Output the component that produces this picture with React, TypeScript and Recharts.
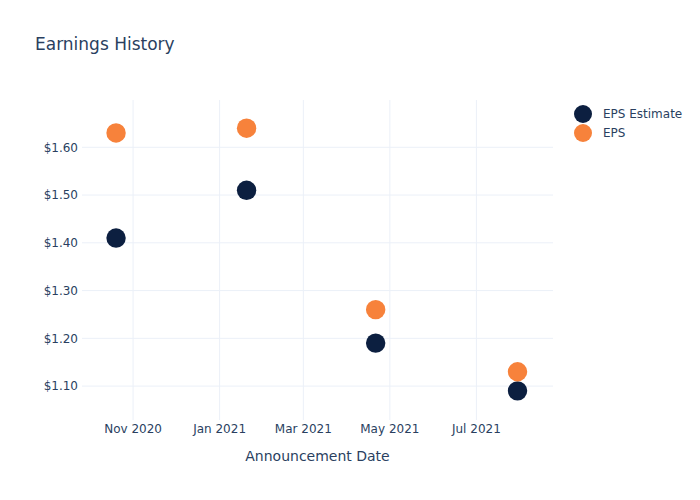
import React from 'react';
import { ScatterChart, Scatter, XAxis, YAxis, ReferenceLine } from 'recharts';

const announceDates = ['2020-10-20', '2021-01-20', '2021-04-21', '2021-07-30'];
const epsEstimate = [1.41, 1.51, 1.19, 1.09];
const epsActual = [1.63, 1.64, 1.26, 1.13];
const xTickDates = ['2020-11-01', '2021-01-01', '2021-03-01', '2021-05-01', '2021-07-01'];
const yTicks = [1.1, 1.2, 1.3, 1.4, 1.5, 1.6];

const monthNames = ['Jan', 'Feb', 'Mar', 'Apr', 'May', 'Jun', 'Jul', 'Aug', 'Sep', 'Oct', 'Nov', 'Dec'];
const FONT = '"DejaVu Sans", Verdana, sans-serif';
const TEXT = '#2a3f5f';
const GRID = '#ebf0f8';
const NAVY = '#0c1f40';
const ORANGE = '#f7823b';

const ts = (d: string) => new Date(d + 'T00:00:00Z').getTime();

const estimateData = announceDates.map((d, i) => ({ date: ts(d), value: epsEstimate[i] }));
const actualData = announceDates.map((d, i) => ({ date: ts(d), value: epsActual[i] }));

const Dot = (color: string) => (props: any) => <circle cx={props.cx} cy={props.cy} r={9.7} fill={color} />;

const App: React.FC = () => {
  const legend = [
    { name: 'EPS Estimate', color: NAVY },
    { name: 'EPS', color: ORANGE },
  ];
  return (
    <div style={{ position: 'absolute', left: 0, top: 0, width: 700, height: 500, background: '#fff', fontFamily: FONT }}>
      <div style={{ position: 'absolute', left: 35, top: 34, fontSize: 17, color: TEXT }}>Earnings History</div>
      {legend.map((l, i) => (
        <div key={l.name} style={{ position: 'absolute', left: 574, top: 105 + i * 19, height: 18, display: 'flex', alignItems: 'center' }}>
          <span style={{ width: 18, height: 18, borderRadius: 9, background: l.color, display: 'inline-block' }} />
          <span style={{ marginLeft: 11, fontSize: 12, color: TEXT }}>{l.name}</span>
        </div>
      ))}
      <ScatterChart width={700} height={500} margin={{ top: 100, right: 147, left: 22, bottom: 20 }}>
        <XAxis
          type="number"
          dataKey="date"
          domain={[ts('2020-09-26'), ts('2021-08-24')]}
          ticks={xTickDates.map(ts)}
          tickFormatter={(v: number) => {
            const d = new Date(v);
            return `${monthNames[d.getUTCMonth()]} ${d.getUTCFullYear()}`;
          }}
          height={60}
          tickLine={false}
          axisLine={false}
          tickSize={0}
          tickMargin={4}
          tick={{ fill: TEXT, fontSize: 12, fontFamily: FONT }}
          label={{ value: 'Announcement Date', position: 'insideBottom', offset: 19, fill: TEXT, fontSize: 14, fontFamily: FONT }}
        />
        <YAxis
          type="number"
          dataKey="value"
          domain={[1.029, 1.699]}
          ticks={yTicks}
          tickFormatter={(v: number) => `$${v.toFixed(2)}`}
          width={60}
          tickLine={false}
          axisLine={false}
          tickSize={0}
          tickMargin={4}
          tick={{ fill: TEXT, fontSize: 12, fontFamily: FONT }}
        />
        {xTickDates.map((d) => (
          <ReferenceLine key={d} x={ts(d)} stroke={GRID} strokeWidth={1} />
        ))}
        {yTicks.map((t) => (
          <ReferenceLine key={t} y={t} stroke={GRID} strokeWidth={1} />
        ))}
        <Scatter name="EPS Estimate" data={estimateData} fill={NAVY} shape={Dot(NAVY)} isAnimationActive={false} />
        <Scatter name="EPS" data={actualData} fill={ORANGE} shape={Dot(ORANGE)} isAnimationActive={false} />
      </ScatterChart>
    </div>
  );
};

export default App;
